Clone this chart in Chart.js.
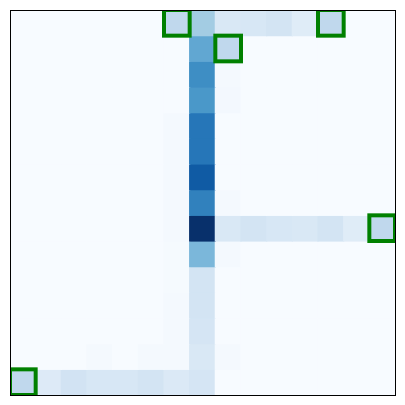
<!DOCTYPE html>
<html>
<head>
<meta charset="utf-8">
<script src="https://cdn.jsdelivr.net/npm/chart.js@4/dist/chart.umd.min.js"></script>
<style>
html,body{margin:0;padding:0;background:#fff;}
#wrap{width:405px;height:405px;}
</style>
</head>
<body>
<div id="wrap"><canvas id="c"></canvas></div>
<script>
// column categories
const cols = ['0','1','2','3','4','5','6','7','8','9','10','11','12','13','14'];
// row values (normalised intensity, 0..1), top row first
const row0  = [0,0,0,0,0,0,0.27,0.36,0.15,0.16,0.18,0.12,0.27,0,0];
const row1  = [0,0,0,0,0,0,0,0.53,0.27,0,0,0,0,0,0];
const row2  = [0,0,0,0,0,0,0,0.64,0.015,0,0,0,0,0,0];
const row3  = [0,0,0,0,0,0,0,0.60,0.02,0,0,0,0,0,0];
const row4  = [0,0,0,0,0,0,0.015,0.73,0,0,0,0,0,0,0];
const row5  = [0,0,0,0,0,0,0.015,0.73,0,0,0,0,0,0,0];
const row6  = [0,0,0,0,0,0,0.015,0.835,0,0,0,0,0,0,0];
const row7  = [0,0,0,0,0,0,0.015,0.69,0.015,0,0,0,0,0,0];
const row8  = [0,0,0,0,0,0,0.015,1.0,0.15,0.18,0.16,0.15,0.18,0.12,0.27];
const row9  = [0,0,0,0,0,0,0.01,0.46,0.015,0,0,0,0,0,0];
const row10 = [0,0,0,0,0,0,0.01,0.18,0,0,0,0,0,0,0];
const row11 = [0,0,0,0,0,0,0.015,0.18,0,0,0,0,0,0,0];
const row12 = [0,0,0,0,0,0,0.015,0.17,0,0,0,0,0,0,0];
const row13 = [0,0,0,0.015,0,0.015,0.015,0.15,0.015,0,0,0,0,0,0];
const row14 = [0.27,0.13,0.19,0.16,0.16,0.18,0.14,0.17,0,0,0,0,0,0,0];
const rows = [row0,row1,row2,row3,row4,row5,row6,row7,row8,row9,row10,row11,row12,row13,row14];
// highlighted cells [row, col]
const highlights = [[0,6],[0,12],[1,8],[8,14],[14,0]];

const stops = [[247,251,255],[222,235,247],[198,219,239],[158,202,225],[107,174,214],[66,146,198],[33,113,181],[8,81,156],[8,48,107]];
function blues(v){
  v = Math.max(0, Math.min(1, v));
  const p = v * (stops.length - 1);
  const i = Math.min(Math.floor(p), stops.length - 2);
  const t = p - i;
  const a = stops[i], b = stops[i+1];
  return 'rgb(' + a.map((c,k)=>Math.round(c + (b[k]-c)*t)).join(',') + ')';
}

const datasets = rows.map((vals, r) => ({
  data: cols.map(() => [r, r + 1]),
  backgroundColor: vals.map(blues),
  borderWidth: 0,
  barPercentage: 1,
  categoryPercentage: 1,
  grouped: false,
  inflateAmount: 0.6
}));

const overlay = {
  id: 'overlay',
  afterDatasetsDraw(chart) {
    const ctx = chart.ctx, a = chart.chartArea;
    const xs = chart.scales.x, ys = chart.scales.y;
    const w = xs.getPixelForValue(1) - xs.getPixelForValue(0);
    ctx.save();
    ctx.beginPath();
    ctx.rect(a.left, a.top, a.right - a.left, a.bottom - a.top);
    ctx.clip();
    ctx.strokeStyle = 'rgb(0,128,0)';
    ctx.lineWidth = 4;
    highlights.forEach(([r, c]) => {
      const x0 = xs.getPixelForValue(c) - w / 2;
      const y0 = ys.getPixelForValue(r);
      const y1 = ys.getPixelForValue(r + 1);
      ctx.strokeRect(x0, y0, w, y1 - y0);
    });
    ctx.restore();
  },
  afterDraw(chart) {
    const ctx = chart.ctx, a = chart.chartArea;
    ctx.save();
    ctx.strokeStyle = '#000';
    ctx.lineWidth = 1;
    ctx.strokeRect(a.left + 0.5, a.top + 0.5, a.right - a.left, a.bottom - a.top);
    ctx.restore();
  }
};

new Chart(document.getElementById('c'), {
  type: 'bar',
  data: { labels: cols, datasets },
  options: {
    responsive: true,
    maintainAspectRatio: false,
    animation: false,
    layout: { padding: { left: 10, top: 10, right: 10, bottom: 10 } },
    plugins: { legend: { display: false }, tooltip: { enabled: false } },
    scales: {
      x: { display: false, offset: true, stacked: true },
      y: { display: false, min: 0, max: 15, reverse: true }
    }
  },
  plugins: [overlay]
});
</script>
</body>
</html>
